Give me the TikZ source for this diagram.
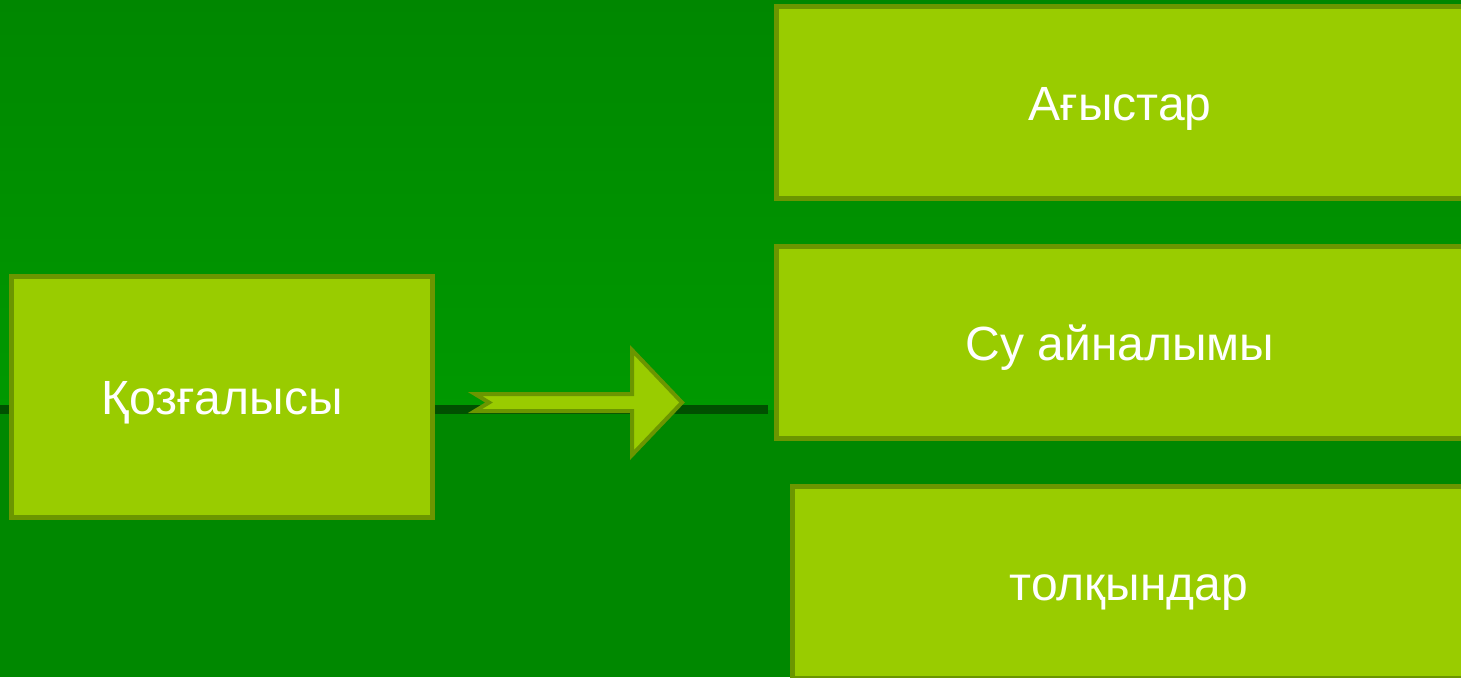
\documentclass[tikz,border=0pt]{standalone}
\usepackage{fontspec}
\setmainfont{Liberation Sans}
\definecolor{bgtop}{HTML}{008700}
\definecolor{bgmid}{HTML}{009900}
\definecolor{bgbot}{HTML}{008800}
\definecolor{boxfill}{HTML}{99CC00}
\definecolor{boxline}{HTML}{6B9600}
\definecolor{darkline}{HTML}{005000}
\begin{document}
\begin{tikzpicture}[x=0.5pt,y=-0.5pt,
  box/.style={rectangle, draw=boxline, fill=boxfill, line width=2.5pt,
    text=white, font=\fontsize{24}{29}\selectfont, inner sep=0pt,
    text height=17.6pt, text depth=0pt},
  blockarrow/.style={draw=boxline, fill=boxfill, line width=2pt, line join=miter}]
\useasboundingbox (0,0) rectangle (1461,677);
\clip (0,0) rectangle (1461,677);
% background
\shade[top color=bgtop, bottom color=bgmid] (0,0) rectangle (1461,409.5);
\fill[bgbot] (0,409.5) rectangle (1461,677);
% dark horizontal line
\coordinate (lineL) at (0,409.5);
\coordinate (lineR) at (768,409.5);
\draw[darkline, line width=4.5pt] (lineL) -- (lineR);
% boxes
\node[box, minimum width=210.5pt, minimum height=120.5pt] (src) at (222,397) {Қозғалысы};
\node[box, minimum width=343.5pt, minimum height=96pt] (a) at (1120,102.5) {Ағыстар};
\node[box, minimum width=343.5pt, minimum height=96pt] (b) at (1120,342.5) {Су айналымы};
\node[box, minimum width=337pt, minimum height=96pt] (c) at (1129,582.5) {толқындар};
% block arrow
\draw[blockarrow] (475,394) -- (632,394) -- (632,350) -- (682,402.5) -- (632,455) -- (632,411) -- (475,411) -- (489,402.5) -- cycle;
\end{tikzpicture}
\end{document}
